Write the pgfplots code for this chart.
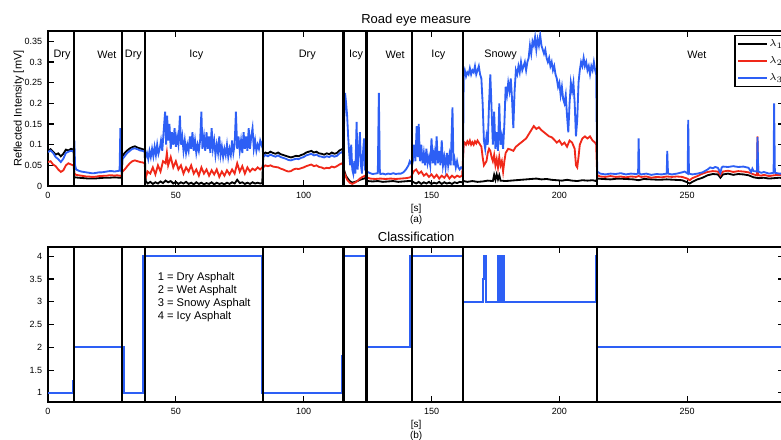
\documentclass[border=0pt]{standalone}
\usepackage{fontspec}
\setmainfont{Liberation Sans}
\usepackage{pgfplots}
\pgfplotsset{compat=1.18}
\definecolor{lred}{RGB}{240,40,25}
\definecolor{lblue}{RGB}{45,95,245}

\pgfplotsset{roadax/.style={
    scale only axis, width=441.8pt, height=93pt,
    anchor=south west, xmin=0, xmax=288,
    axis line style={line width=1pt},
    tick align=inside, major tick length=3.6pt,
    tick style={line width=0.7pt, black},
    xtick={0,50,100,150,200,250}, xticklabels={0,50,100,150,200,250},
    ticklabel style={font=\fontsize{5.4}{6}\selectfont},
    title style={font=\fontsize{7.8}{9}\selectfont, yshift=-6.5pt},
    xlabel style={font=\fontsize{6}{6.6}\selectfont, align=center, yshift=3pt},
    ylabel style={font=\fontsize{6.6}{7}\selectfont},
}}

\begin{document}
\begin{tikzpicture}
\useasboundingbox (0,0) rectangle (468.6pt,263.4pt);
\begin{pgfinterruptboundingbox}
% ---------- (a) road eye signals ----------
\begin{axis}[roadax, at={(28.8pt,151.8pt)},
    ymin=0, ymax=0.375,
    ytick={0,0.05,0.1,0.15,0.2,0.25,0.3,0.35},
    yticklabels={0,0.05,0.1,0.15,0.2,0.25,0.3,0.35},
    title={Road eye measure},
    xlabel={[s]\\(a)},
    ylabel={Reflected Intensity [mV]}, ylabel shift=-6.5pt,
    legend cell align=left,
    legend image post style={line width=1.3pt},
    legend style={at={(axis cs:268.4,0.365)}, anchor=north west,
        font=\fontsize{6}{7}\selectfont, draw=black, line width=0.8pt,
        row sep=2.9pt, inner sep=1.5pt, nodes={inner sep=0.8pt}},
]
% lambda 1
\addplot[black, line width=1.1pt] coordinates {
(0,0.084)(1,0.089)(2,0.083)(3,0.076)(4,0.079)(5,0.072)(6,0.078)(7,0.088)(8,0.086)(9,0.090)(10,0.088)
(10.3,0.021)(12,0.020)(14,0.019)(16,0.018)(18,0.018)(20,0.019)(22,0.020)(24,0.020)(26,0.021)(28,0.020)(28.8,0.020)
(29.1,0.072)(30,0.080)(31,0.086)(32,0.091)(33,0.094)(34,0.096)(35,0.093)(36,0.091)(37,0.089)(37.8,0.088)
(38.2,0.012)(39,0.006)(40,0.010)(41,0.005)(42,0.009)(43,0.006)(44,0.011)(45,0.007)(46,0.013)(47,0.009)(48,0.012)
(49,0.006)(50,0.010)(51,0.005)(52,0.009)(53,0.006)(54,0.010)(55,0.005)(56,0.008)(57,0.004)(58,0.009)(59,0.005)
(60,0.008)(61,0.004)(62,0.007)(63,0.005)(64,0.009)(65,0.004)(66,0.008)(67,0.005)(68,0.007)(69,0.004)(70,0.008)
(71,0.005)(72,0.009)(73,0.006)(74,0.015)(75,0.007)(76,0.009)(77,0.005)(78,0.008)(79,0.005)(80,0.009)(81,0.006)
(82,0.008)(83,0.006)(83.8,0.007)
(84.2,0.076)(85,0.081)(86,0.079)(87,0.083)(88,0.080)(89,0.078)(90,0.081)(91,0.077)(92,0.075)(93,0.073)(94,0.071)
(95,0.069)(96,0.071)(97,0.073)(98,0.072)(99,0.075)(100,0.077)(101,0.081)(102,0.083)(103,0.085)(104,0.081)(105,0.083)
(106,0.079)(107,0.078)(108,0.076)(109,0.079)(110,0.077)(111,0.081)(112,0.078)(113,0.080)(114,0.086)(115,0.089)(115.5,0.086)
(115.8,0.038)(116.5,0.025)(117,0.020)(118,0.012)(119,0.008)(120,0.010)(121,0.012)(122,0.015)(123,0.017)(124,0.019)
(124.5,0.015)(125,0.012)(127,0.011)(129,0.012)(131,0.010)(133,0.011)(135,0.012)(137,0.010)(139,0.011)(141,0.012)(142.4,0.012)
(143,0.009)(144,0.006)(145,0.010)(146,0.005)(147,0.009)(148,0.006)(149,0.010)(150,0.005)(151,0.008)(152,0.006)
(153,0.010)(154,0.005)(155,0.009)(156,0.006)(157,0.008)(158,0.005)(159,0.009)(160,0.007)(161,0.010)(162,0.009)
(162.6,0.012)(164,0.010)(166,0.012)(168,0.010)(170,0.011)(172,0.013)(174,0.012)(174.5,0.027)(175,0.015)(175.5,0.028)
(176,0.016)(176.5,0.026)(177,0.013)(179,0.012)(181,0.013)(183,0.014)(185,0.015)(187,0.016)(189,0.017)(191,0.018)
(193,0.016)(195,0.017)(197,0.015)(199,0.014)(201,0.013)(203,0.015)(205,0.013)(207,0.012)(209,0.014)(211,0.013)
(213,0.014)(214.4,0.012)
(214.8,0.018)(217,0.017)(220,0.016)(223,0.018)(226,0.017)(229,0.016)(231,0.014)(233,0.017)(236,0.016)(239,0.015)
(242,0.016)(245,0.015)(248,0.014)(250,0.009)(251,0.006)(252,0.010)(254,0.016)(256,0.020)(258,0.026)(260,0.029)
(262,0.028)(263,0.020)(264,0.028)(266,0.030)(268,0.027)(270,0.029)(272,0.028)(274,0.026)(276,0.021)(278,0.019)
(280,0.020)(282,0.018)(284,0.019)(286,0.020)(288,0.019)
};
\addlegendentry{$\lambda_1$}
% lambda 2
\addplot[lred, line width=1.1pt] coordinates {
(0,0.058)(1,0.060)(2,0.052)(3,0.048)(4,0.040)(5,0.034)(6,0.038)(7,0.050)(8,0.055)(9,0.052)(10,0.050)
(10.3,0.030)(11,0.027)(12,0.026)(13,0.025)(14,0.024)(15,0.023)(16,0.023)(17,0.022)(18,0.022)(19,0.023)(20,0.024)
(21,0.024)(22,0.025)(23,0.025)(24,0.026)(25,0.026)(26,0.025)(27,0.026)(28,0.025)(28.8,0.024)
(29.1,0.035)(30,0.040)(31,0.048)(32,0.055)(33,0.060)(34,0.062)(35,0.060)(36,0.058)(37,0.057)(37.8,0.055)
(38.2,0.020)(39,0.035)(40,0.030)(41,0.045)(42,0.028)(43,0.050)(44,0.035)(45,0.060)(46,0.055)(46.5,0.080)(47,0.050)
(48,0.070)(49,0.045)(50,0.060)(51,0.040)(52,0.050)(53,0.030)(54,0.045)(55,0.035)(56,0.050)(57,0.030)(58,0.040)
(59,0.025)(60,0.045)(61,0.030)(62,0.040)(63,0.025)(64,0.038)(65,0.028)(66,0.040)(67,0.022)(68,0.035)(69,0.025)
(70,0.038)(71,0.028)(72,0.040)(73,0.030)(74,0.055)(75,0.035)(76,0.048)(77,0.030)(78,0.045)(79,0.035)(80,0.042)
(81,0.038)(82,0.045)(83,0.040)(83.8,0.045)
(84.2,0.045)(85,0.050)(86,0.048)(87,0.050)(88,0.047)(89,0.046)(90,0.045)(91,0.042)(92,0.040)(93,0.037)(94,0.035)
(95,0.036)(96,0.040)(97,0.042)(98,0.041)(99,0.043)(100,0.045)(101,0.048)(102,0.050)(103,0.052)(104,0.048)(105,0.050)
(106,0.046)(107,0.045)(108,0.042)(109,0.044)(110,0.043)(111,0.047)(112,0.045)(113,0.048)(114,0.052)(115,0.055)(115.5,0.050)
(116,0.030)(117,0.015)(118,0.008)(119,0.005)(120,0.008)(121,0.012)(122,0.018)(123,0.022)(124,0.025)
(125,0.020)(126,0.018)(128,0.017)(130,0.018)(132,0.017)(134,0.018)(136,0.017)(138,0.018)(140,0.019)(141,0.020)(142,0.022)
(143,0.035)(144,0.040)(145,0.030)(146,0.035)(147,0.025)(148,0.030)(149,0.022)(150,0.028)(151,0.020)(152,0.027)
(153,0.018)(154,0.025)(155,0.020)(156,0.028)(157,0.018)(158,0.025)(159,0.020)(160,0.025)(161,0.022)(162,0.025)
(162.6,0.100)(163,0.105)(163.5,0.100)(164,0.108)(164.5,0.102)(165,0.110)(165.5,0.100)(166,0.106)(166.5,0.100)
(167,0.108)(167.5,0.103)(168,0.110)(168.5,0.105)(169,0.100)(169.5,0.095)(170,0.070)(170.5,0.050)(171,0.055)
(171.5,0.060)(172,0.080)(172.5,0.090)(173,0.085)(173.5,0.070)(174,0.060)(174.5,0.075)(175,0.050)(175.5,0.065)
(176,0.045)(176.5,0.070)(177,0.050)(177.5,0.060)(178,0.035)(178.5,0.060)(179,0.080)(179.5,0.085)(180,0.090)
(181,0.088)(182,0.085)(183,0.095)(184,0.100)(185,0.105)(186,0.110)(187,0.115)(188,0.125)(189,0.135)(190,0.145)
(191,0.138)(192,0.142)(193,0.135)(194,0.130)(195,0.125)(196,0.120)(197,0.118)(198,0.112)(199,0.105)(200,0.110)
(201,0.100)(202,0.105)(203,0.095)(204,0.110)(205,0.105)(206,0.090)(206.5,0.050)(207,0.045)(207.5,0.070)(208,0.100)
(209,0.115)(210,0.120)(211,0.115)(212,0.120)(213,0.110)(214,0.105)(214.4,0.100)
(214.8,0.026)(216,0.023)(218,0.022)(220,0.024)(222,0.022)(224,0.023)(226,0.021)(228,0.023)(230,0.022)(231,0.024)
(232,0.022)(234,0.023)(236,0.020)(238,0.022)(240,0.021)(242,0.023)(244,0.022)(246,0.023)(248,0.022)(250,0.018)
(251,0.014)(252,0.019)(254,0.024)(256,0.030)(258,0.034)(260,0.036)(262,0.035)(263,0.026)(264,0.035)(266,0.037)
(268,0.034)(270,0.036)(272,0.035)(274,0.033)(276,0.028)(277.3,0.026)(277.5,0.120)(277.8,0.026)(279,0.025)
(280,0.027)(282,0.024)(284,0.026)(286,0.027)(288,0.025)
};
\addlegendentry{$\lambda_2$}
% lambda 3
\addplot[lblue, line width=1.1pt] coordinates {
(0,0.082)(1,0.086)(2,0.080)(3,0.070)(4,0.065)(5,0.058)(6,0.066)(7,0.080)(8,0.083)(9,0.085)(10,0.084)
(10.3,0.110)(10.6,0.050)(11,0.040)(12,0.037)(13,0.035)(14,0.034)(15,0.033)(16,0.032)(17,0.031)(18,0.031)(19,0.032)
(20,0.033)(21,0.033)(22,0.034)(23,0.035)(24,0.036)(25,0.036)(26,0.035)(27,0.036)(28,0.037)(28.3,0.140)(28.6,0.040)(28.8,0.035)
(29.1,0.065)(30,0.072)(31,0.080)(32,0.085)(33,0.090)(34,0.091)(35,0.089)(36,0.086)(37,0.085)(37.8,0.083)
(38.2,0.070)(38.7,0.080)(39.2,0.065)(39.7,0.085)(40.2,0.070)(40.7,0.090)(41.2,0.072)(41.7,0.095)(42.2,0.075)
(42.7,0.100)(43.2,0.078)(43.7,0.090)(44.2,0.110)(44.7,0.085)(45.2,0.130)(45.8,0.180)(46.2,0.100)(46.6,0.170)
(47,0.110)(47.5,0.150)(48,0.090)(48.5,0.130)(49,0.100)(49.5,0.140)(50,0.095)(50.5,0.120)(51,0.100)(51.6,0.170)
(52,0.100)(52.5,0.120)(53,0.085)(53.5,0.110)(54,0.080)(54.5,0.100)(55,0.085)(55.5,0.120)(56,0.090)(56.5,0.130)
(57,0.085)(57.5,0.110)(58,0.080)(58.5,0.100)(59,0.085)(59.5,0.110)(60,0.180)(60.4,0.090)(61,0.120)(61.5,0.085)
(62,0.130)(62.5,0.090)(63,0.120)(63.5,0.080)(64,0.140)(64.5,0.090)(65,0.110)(65.5,0.075)(66,0.100)(66.5,0.080)
(67,0.120)(67.5,0.075)(68,0.095)(68.5,0.070)(69,0.090)(69.5,0.075)(70,0.100)(70.5,0.070)(71,0.090)(71.5,0.075)
(72,0.110)(72.5,0.080)(73,0.100)(73.5,0.180)(74,0.090)(74.5,0.120)(75,0.085)(75.5,0.110)(76,0.080)(76.5,0.130)
(77,0.090)(77.5,0.120)(78,0.085)(78.5,0.140)(79,0.090)(79.5,0.120)(80,0.140)(80.5,0.090)(81,0.110)(81.5,0.085)
(82,0.100)(82.5,0.090)(83,0.110)(83.5,0.100)(83.8,0.105)
(84.2,0.070)(85,0.075)(86,0.072)(87,0.076)(88,0.073)(89,0.071)(90,0.074)(91,0.070)(92,0.068)(93,0.066)(94,0.063)
(95,0.062)(96,0.064)(97,0.066)(98,0.065)(99,0.068)(100,0.070)(101,0.074)(102,0.076)(103,0.078)(104,0.074)(105,0.076)
(106,0.072)(107,0.071)(108,0.069)(109,0.072)(110,0.070)(111,0.074)(112,0.071)(113,0.073)(114,0.079)(115,0.082)(115.5,0.078)
(115.8,0.150)(116.2,0.225)(116.6,0.200)(117,0.170)(117.4,0.120)(117.8,0.080)(118.2,0.050)(118.6,0.100)(119,0.040)
(119.4,0.030)(119.8,0.060)(120.2,0.030)(120.7,0.155)(121.1,0.040)(121.5,0.080)(122,0.130)(122.4,0.050)(122.8,0.030)
(123.2,0.080)(123.6,0.115)(124,0.040)(124.4,0.035)
(125,0.034)(126,0.031)(127,0.029)(128,0.030)(129,0.031)(129.4,0.225)(129.8,0.034)(130,0.029)(131,0.030)(132,0.028)
(133,0.030)(134,0.029)(135,0.031)(136,0.029)(137,0.030)(138,0.030)(139,0.033)(140,0.040)(141,0.050)(141.5,0.060)
(142,0.055)(142.4,0.050)
(142.7,0.060)(143.2,0.100)(143.7,0.060)(144.2,0.145)(144.6,0.070)(145,0.150)(145.5,0.060)(146,0.100)(146.5,0.055)
(147,0.080)(147.5,0.050)(148,0.090)(148.5,0.055)(149,0.070)(149.5,0.050)(150,0.115)(150.5,0.055)(151,0.080)
(151.5,0.050)(152,0.120)(152.5,0.055)(153,0.085)(153.5,0.050)(154,0.110)(154.5,0.050)(155,0.070)(155.5,0.045)
(156,0.080)(156.5,0.050)(157,0.075)(157.5,0.050)(158.2,0.190)(158.6,0.050)(159,0.065)(159.5,0.045)(160,0.060)
(160.5,0.045)(161,0.040)(161.5,0.045)(162,0.045)(162.3,0.040)
(162.6,0.270)(163,0.280)(163.5,0.265)(164,0.275)(164.5,0.270)(165,0.285)(165.5,0.270)(166,0.280)(166.5,0.275)
(167,0.290)(167.5,0.270)(168,0.280)(168.5,0.290)(169,0.270)(169.5,0.260)(170,0.200)(170.5,0.110)(171,0.090)
(171.5,0.120)(172,0.100)(172.5,0.200)(173,0.270)(173.3,0.220)(173.7,0.150)(174,0.100)(174.5,0.180)(175,0.090)
(175.5,0.130)(176,0.085)(176.5,0.200)(177,0.100)(177.5,0.120)(178,0.090)(178.5,0.150)(179,0.240)(179.5,0.220)
(180,0.250)(180.5,0.230)(181,0.260)(181.5,0.210)(182,0.140)(182.5,0.230)(183,0.280)(183.5,0.270)(184,0.290)
(184.5,0.275)(185,0.300)(185.5,0.280)(186,0.290)(186.5,0.300)(187,0.280)(187.5,0.300)(188,0.310)(188.5,0.340)
(189,0.320)(189.5,0.350)(190,0.340)(190.5,0.360)(191,0.330)(191.5,0.355)(192,0.340)(192.5,0.365)(193,0.340)
(193.5,0.330)(194,0.320)(194.5,0.330)(195,0.310)(195.5,0.300)(196,0.310)(196.5,0.290)(197,0.300)(197.5,0.280)
(198,0.290)(198.5,0.270)(199,0.260)(199.5,0.240)(200,0.250)(200.5,0.220)(201,0.240)(201.5,0.210)(202,0.200)
(202.5,0.220)(203,0.170)(203.5,0.130)(204,0.200)(204.5,0.250)(205,0.230)(205.5,0.250)(206,0.200)(206.5,0.120)
(207,0.160)(207.5,0.250)(208,0.280)(208.5,0.300)(209,0.290)(209.5,0.310)(210,0.290)(210.5,0.300)(211,0.280)
(211.5,0.290)(212,0.270)(212.5,0.290)(213,0.280)(213.5,0.300)(214,0.280)(214.4,0.270)
(214.8,0.035)(216,0.030)(218,0.028)(220,0.030)(222,0.029)(224,0.031)(226,0.028)(228,0.030)(230,0.029)(230.8,0.030)
(231,0.115)(231.3,0.030)(232,0.028)(234,0.030)(236,0.027)(238,0.029)(240,0.028)(242,0.030)(242.2,0.085)(242.5,0.030)
(244,0.028)(246,0.030)(248,0.033)(249,0.035)(250.2,0.030)(250.4,0.160)(250.7,0.030)(252,0.028)(254,0.030)(256,0.033)
(258,0.040)(259,0.045)(260,0.043)(261,0.046)(262,0.044)(263,0.032)(263.5,0.045)(264,0.047)(266,0.046)(268,0.048)
(270,0.046)(272,0.047)(274,0.044)(275,0.034)(275.5,0.042)(276,0.036)(277.3,0.035)(277.5,0.118)(277.8,0.035)
(279,0.032)(280,0.034)(282,0.030)(283.8,0.032)(284,0.200)(284.3,0.032)(286,0.030)(288,0.030)
};
\addlegendentry{$\lambda_3$}
% segment boundaries
\addplot[black, line width=1.3pt, forget plot] coordinates {(10.2,0) (10.2,0.375)};
\addplot[black, line width=1.3pt, forget plot] coordinates {(28.9,0) (28.9,0.375)};
\addplot[black, line width=1.3pt, forget plot] coordinates {(38,0) (38,0.375)};
\addplot[black, line width=1.3pt, forget plot] coordinates {(84,0) (84,0.375)};
\addplot[black, line width=1.3pt, forget plot] coordinates {(115.6,0) (115.6,0.375)};
\addplot[black, line width=1.3pt, forget plot] coordinates {(124.6,0) (124.6,0.375)};
\addplot[black, line width=1.3pt, forget plot] coordinates {(142.5,0) (142.5,0.375)};
\addplot[black, line width=1.3pt, forget plot] coordinates {(162.4,0) (162.4,0.375)};
\addplot[black, line width=1.3pt, forget plot] coordinates {(214.6,0) (214.6,0.375)};
% segment names
\begin{scope}[every node/.style={font=\fontsize{6.5}{7}\selectfont, inner sep=0pt}]
\node at (axis cs:5.5,0.318) {Dry};
\node at (axis cs:23,0.318) {Wet};
\node at (axis cs:33.4,0.318) {Dry};
\node at (axis cs:58,0.318) {Icy};
\node at (axis cs:101.4,0.318) {Dry};
\node at (axis cs:120.5,0.318) {Icy};
\node at (axis cs:135.8,0.318) {Wet};
\node at (axis cs:152.7,0.318) {Icy};
\node at (axis cs:177,0.318) {Snowy};
\node at (axis cs:253.8,0.318) {Wet};
\end{scope}
\end{axis}

% ---------- (b) classification ----------
\begin{axis}[roadax, at={(28.8pt,22.2pt)},
    ymin=0.8, ymax=4.2,
    ytick={1,1.5,2,2.5,3,3.5,4},
    yticklabels={1,1.5,2,2.5,3,3.5,4},
    title={Classification},
    xlabel={[s]\\(b)},
]
\addplot[lblue, line width=1.2pt] coordinates {
(0,1)(9.9,1)(9.9,1.25)(10.2,1.25)(10.2,2)(29.6,2)(29.6,1)(37,1)(37,2)(37.3,2)(37.3,4)(83.7,4)(83.7,1)
(115.1,1)(115.1,1.8)(115.4,1.8)(115.4,4)(124.8,4)(124.8,2)(141.6,2)(141.6,4)(162.4,4)(162.4,3)
(170.1,3)(170.1,3.5)(170.4,3.5)(170.4,4)(171.3,4)(171.3,3)
(176.1,3)(176.1,4)(176.3,4)(176.3,3)(176.5,3)(176.5,4)(176.7,4)(176.7,3)(176.9,3)(176.9,4)(177.1,4)(177.1,3)
(177.3,3)(177.3,4)(177.5,4)(177.5,3)(177.7,3)(177.7,4)(177.9,4)(177.9,3)(178.1,3)(178.1,4)(178.3,4)(178.3,3)
(214.3,3)(214.3,4)(214.6,4)(214.6,2)(288,2)
};
\addplot[black, line width=1.3pt] coordinates {(10.2,0.8) (10.2,4.2)};
\addplot[black, line width=1.3pt] coordinates {(28.9,0.8) (28.9,4.2)};
\addplot[black, line width=1.3pt] coordinates {(38,0.8) (38,4.2)};
\addplot[black, line width=1.3pt] coordinates {(84,0.8) (84,4.2)};
\addplot[black, line width=1.3pt] coordinates {(115.6,0.8) (115.6,4.2)};
\addplot[black, line width=1.3pt] coordinates {(124.6,0.8) (124.6,4.2)};
\addplot[black, line width=1.3pt] coordinates {(142.5,0.8) (142.5,4.2)};
\addplot[black, line width=1.3pt] coordinates {(162.4,0.8) (162.4,4.2)};
\addplot[black, line width=1.3pt] coordinates {(214.6,0.8) (214.6,4.2)};
\node[anchor=north west, inner sep=0pt, align=left, font=\fontsize{6.7}{7.8}\selectfont]
    at (axis cs:42.8,3.64) {1 = Dry Asphalt\\2 = Wet Asphalt\\3 = Snowy Asphalt\\4 = Icy Asphalt};
\end{axis}
\end{pgfinterruptboundingbox}
\end{tikzpicture}
\end{document}
